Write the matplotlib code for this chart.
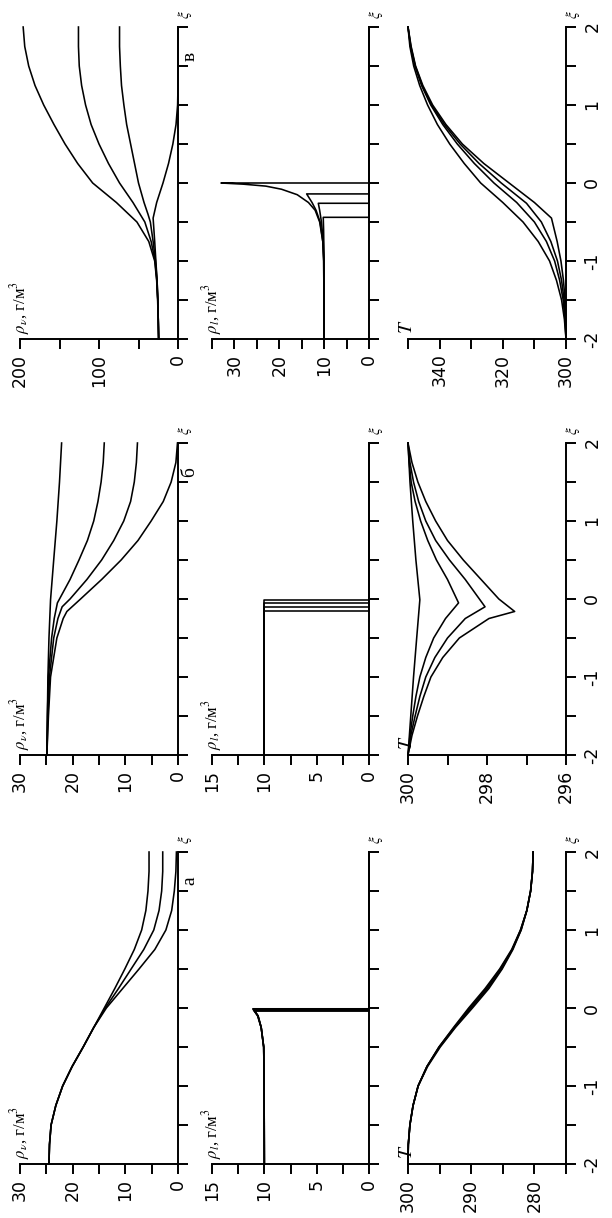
import matplotlib
matplotlib.use('Agg')
import matplotlib.pyplot as plt
from matplotlib.ticker import FixedLocator, NullFormatter

plt.rcParams['mathtext.fontset'] = 'stix'
plt.rcParams['font.family'] = ['DejaVu Sans']

# ---------------- data ----------------
xi_grid = [-2, -1.75, -1.5, -1.25, -1, -0.75, -0.5, -0.25, 0, 0.25, 0.5, 0.75, 1, 1.25, 1.5, 1.75, 2]

# panel в : vapour density
v_rv_xi_A = xi_grid
v_rv_A = [24.5, 25, 25.8, 27, 29.5, 37, 52, 78, 108, 127, 143, 157, 170, 181, 189, 194, 196]
v_rv_xi_B = xi_grid
v_rv_B = [24.5, 25, 25.6, 26.8, 29, 34, 42, 57, 74, 88, 100, 110, 117, 122, 125, 126, 126]
v_rv_xi_C = [-2, -1.75, -1.5, -1.25, -1, -0.75, -0.5, -0.4, -0.25, 0, 0.25, 0.5, 0.75, 1, 1.25, 1.5, 1.75, 2]
v_rv_C = [24.5, 25, 25.5, 26.5, 28.5, 31.5, 35, 38, 43, 50, 55, 60, 65, 68.5, 71.5, 73, 74, 74]
v_rv_xi_D = [-2, -1.75, -1.5, -1.25, -1, -0.75, -0.45, -0.25, 0, 0.25, 0.5, 0.75, 1, 1.25, 2]
v_rv_D = [24.5, 25, 25.5, 26.5, 28, 29.5, 31.5, 27, 19, 12, 6.5, 2.5, 0.5, 0, 0]

# panel в : liquid density
v_rl_xi_A = [-2, -1, -0.75, -0.5, -0.35, -0.25, -0.15, -0.08, -0.04, -0.015, 0, 0, 2]
v_rl_A = [10, 10.1, 10.3, 11, 12, 13.5, 16, 19.5, 23, 28, 33, 0, 0]
v_rl_xi_B = [-2, -1, -0.75, -0.5, -0.35, -0.25, -0.14, -0.14, 2]
v_rl_B = [10, 10.1, 10.3, 10.9, 11.8, 12.7, 13.9, 0, 0]
v_rl_xi_C = [-2, -1, -0.75, -0.5, -0.35, -0.26, -0.26, 2]
v_rl_C = [10, 10.05, 10.2, 10.6, 11.0, 11.3, 0, 0]
v_rl_xi_D = [-2, -1, -0.75, -0.6, -0.44, -0.44, 2]
v_rl_D = [10, 10.02, 10.08, 10.12, 10.2, 0, 0]

# panel в : temperature
v_T_xi_1 = xi_grid
v_T_1 = [300, 300.5, 301.4, 303, 305.2, 308.8, 313.6, 320, 327, 332.2, 336.8, 340.7, 343.8, 346.3, 348.2, 349.4, 350]
v_T_xi_2 = xi_grid
v_T_2 = [300, 300.3, 300.9, 302, 303.6, 306.2, 310, 315.6, 322.8, 329, 334.4, 339, 342.8, 345.7, 347.8, 349.2, 350]
v_T_xi_3 = [-2, -1.75, -1.5, -1.25, -1, -0.75, -0.5, -0.26, 0, 0.25, 0.5, 0.75, 1, 1.25, 1.5, 1.75, 2]
v_T_3 = [300, 300.2, 300.6, 301.4, 302.7, 304.8, 307.8, 312.5, 320.5, 327.5, 333.5, 338.5, 342.5, 345.5, 347.7, 349.1, 350]
v_T_xi_4 = [-2, -1.75, -1.5, -1.25, -1, -0.75, -0.45, -0.25, 0, 0.25, 0.5, 0.75, 1, 1.25, 1.5, 1.75, 2]
v_T_4 = [300, 300.1, 300.3, 300.8, 301.6, 302.8, 304.6, 310, 318, 326, 332.8, 338, 342.2, 345.3, 347.6, 349, 350]

# panel б : vapour density
b_rv_xi_1 = [-2, -1.5, -1, -0.5, -0.01, 0.5, 1, 1.5, 2]
b_rv_1 = [24.9, 24.8, 24.7, 24.5, 24.2, 23.6, 23, 22.5, 22.1]
b_rv_xi_2 = [-2, -1.5, -1, -0.5, -0.25, -0.05, 0.25, 0.5, 0.75, 1, 1.25, 1.5, 1.75, 2]
b_rv_2 = [24.9, 24.8, 24.6, 24, 23.5, 22.9, 20.5, 18.8, 17.2, 16, 15.2, 14.6, 14.2, 14]
b_rv_xi_3 = [-2, -1.5, -1, -0.5, -0.25, -0.1, 0, 0.25, 0.5, 0.75, 1, 1.25, 1.5, 1.75, 2]
b_rv_3 = [24.9, 24.7, 24.4, 23.6, 22.8, 22, 20.5, 17.3, 14.5, 12.2, 10.3, 9, 8.3, 7.9, 7.7]
b_rv_xi_4 = [-2, -1.5, -1, -0.5, -0.25, -0.16, 0, 0.25, 0.5, 0.75, 1, 1.25, 1.5, 1.75, 2]
b_rv_4 = [24.9, 24.6, 24.2, 23, 21.8, 21.1, 18.5, 14.5, 10.8, 7.6, 5.1, 2.8, 1.3, 0.4, 0.1]

# panel б : liquid density (steps)
b_rl_xi_1 = [-2, -0.01, -0.01, 2]
b_rl_1 = [10, 10, 0, 0]
b_rl_xi_2 = [-2, -0.05, -0.05, 2]
b_rl_2 = [10, 10, 0, 0]
b_rl_xi_3 = [-2, -0.1, -0.1, 2]
b_rl_3 = [10, 10, 0, 0]
b_rl_xi_4 = [-2, -0.16, -0.16, 2]
b_rl_4 = [10, 10, 0, 0]

# panel б : temperature
b_T_xi_1 = [-2, -1.5, -1, -0.5, -0.01, 0.5, 1, 1.5, 2]
b_T_1 = [300, 299.93, 299.86, 299.78, 299.7, 299.8, 299.88, 299.95, 300]
b_T_xi_2 = [-2, -1.75, -1.5, -1.25, -1, -0.75, -0.5, -0.25, -0.05, 0.25, 0.5, 0.75, 1, 1.25, 1.5, 1.75, 2]
b_T_2 = [300, 299.95, 299.88, 299.8, 299.7, 299.55, 299.35, 299.05, 298.72, 299.0, 299.28, 299.5, 299.68, 299.82, 299.92, 299.97, 300]
b_T_xi_3 = [-2, -1.75, -1.5, -1.25, -1, -0.75, -0.5, -0.25, -0.1, 0.25, 0.5, 0.75, 1, 1.25, 1.5, 1.75, 2]
b_T_3 = [300, 299.93, 299.82, 299.7, 299.55, 299.32, 299.0, 298.55, 298.05, 298.55, 298.95, 299.3, 299.55, 299.73, 299.86, 299.95, 300]
b_T_xi_4 = [-2, -1.75, -1.5, -1.25, -1, -0.75, -0.5, -0.25, -0.16, 0, 0.25, 0.5, 0.75, 1, 1.25, 1.5, 1.75, 2]
b_T_4 = [300, 299.9, 299.76, 299.6, 299.42, 299.12, 298.7, 297.95, 297.3, 297.7, 298.15, 298.6, 299.0, 299.3, 299.55, 299.75, 299.9, 300]

# panel а : vapour density
a_rv_xi_1 = xi_grid
a_rv_1 = [24.5, 24.4, 24.1, 23.2, 21.9, 20.1, 18, 16, 14, 12, 10.1, 8.3, 6.9, 6.1, 5.7, 5.5, 5.5]
a_rv_xi_2 = xi_grid
a_rv_2 = [24.5, 24.4, 24.1, 23.2, 21.9, 20.1, 18, 16, 13.8, 11.3, 8.9, 6.5, 4.6, 3.6, 3.1, 2.9, 2.9]
a_rv_xi_3 = xi_grid
a_rv_3 = [24.5, 24.4, 24.1, 23.2, 21.9, 20.1, 18, 16, 13.6, 10.5, 7.4, 4.4, 2.3, 1.2, 0.7, 0.4, 0.3]

# panel а : liquid density
a_rl_xi_1 = [-2, -1, -0.5, -0.25, -0.1, -0.04, -0.04, 2]
a_rl_1 = [10, 10.02, 10.06, 10.3, 10.6, 10.9, 0, 0]
a_rl_xi_2 = [-2, -1, -0.5, -0.25, -0.1, -0.03, -0.03, 2]
a_rl_2 = [10, 10.02, 10.06, 10.3, 10.6, 11.0, 0, 0]
a_rl_xi_3 = [-2, -1, -0.5, -0.25, -0.1, -0.02, -0.02, 2]
a_rl_3 = [10, 10.02, 10.06, 10.3, 10.62, 11.05, 0, 0]
a_rl_xi_4 = [-2, -1, -0.5, -0.25, -0.1, -0.01, -0.01, 2]
a_rl_4 = [10, 10.02, 10.06, 10.3, 10.65, 11.1, 0, 0]

# panel а : temperature
a_T_xi = xi_grid
a_T_1 = [300, 299.95, 299.7, 299.2, 298.4, 297.0, 295.1, 292.8, 290.4, 287.8, 285.5, 283.6, 282.2, 281.2, 280.6, 280.3, 280.2]
a_T_2 = [300, 299.95, 299.7, 299.2, 298.4, 297.0, 295.1, 292.7, 290.2, 287.6, 285.4, 283.5, 282.2, 281.2, 280.6, 280.3, 280.2]
a_T_3 = [300, 299.95, 299.7, 299.2, 298.4, 297.0, 295.0, 292.6, 290.0, 287.4, 285.2, 283.5, 282.1, 281.2, 280.6, 280.3, 280.2]
a_T_4 = [300, 299.95, 299.7, 299.2, 298.4, 296.9, 294.9, 292.5, 289.8, 287.2, 285.1, 283.4, 282.1, 281.2, 280.6, 280.3, 280.2]

xi_ticks = [-2, -1, 0, 1, 2]
xi_minor = [-1.5, -0.5, 0.5, 1.5]
xi_ticklabels = ['-2', '-1', '0', '1', '2']

# ---------------- layout ----------------
W, H = 612, 1218
fig = plt.figure(figsize=(W / 100, H / 100), dpi=100)

cols = {'rv': (20, 178), 'rl': (212, 369), 'T': (408, 566)}
rows = {'в': (27, 339), 'б': (443, 755), 'а': (852, 1164)}

LW = 1.15
SPW = 1.4


def make_ax(col, row):
    x0, x1 = cols[col]
    y0, y1 = rows[row]
    ax = fig.add_axes([x0 / W, (H - y1) / H, (x1 - x0) / W, (y1 - y0) / H])
    ax.patch.set_alpha(0)
    for s in ('left', 'top'):
        ax.spines[s].set_visible(False)
    for s in ('right', 'bottom'):
        ax.spines[s].set_linewidth(SPW)
    ax.yaxis.tick_right()
    ax.set_ylim(-2, 2)
    ax.yaxis.set_major_locator(FixedLocator(xi_ticks))
    ax.yaxis.set_minor_locator(FixedLocator(xi_minor))
    ax.tick_params(axis='both', which='both', direction='out', length=7.5, width=SPW,
                   labelsize=12.5)
    ax.tick_params(axis='x', labelrotation=90, pad=3)
    ax.tick_params(axis='y', labelrotation=90, pad=5)
    if col == 'T':
        ax.set_yticklabels(xi_ticklabels)
        for t in ax.get_yticklabels():
            t.set_va('center')
            t.set_ha('left')
    else:
        ax.yaxis.set_major_formatter(NullFormatter())
    return ax


def set_val_axis(ax, vmax, vmin, major, minor):
    ax.set_xlim(vmax, vmin)
    ax.xaxis.set_major_locator(FixedLocator(major))
    ax.xaxis.set_minor_locator(FixedLocator(minor))
    ax.set_xticklabels([('%g' % m) for m in major])


def top_label(ax, text, size=12, family='Liberation Serif', style='normal'):
    ax.text(0.0, 0.015, text, transform=ax.transAxes, rotation=90,
            ha='center', va='bottom', fontsize=size, family=family, style=style)


def xi_label(ax):
    ax.text(1.0 + 7 / 158, 1.0 + 12 / 312, r'$\xi$', transform=ax.transAxes,
            rotation=90, ha='center', va='center', fontsize=11)


def letter(ax, s):
    ax.text(1.0 + 12 / 158, 1.0 - 29 / 312, s, transform=ax.transAxes,
            rotation=90, ha='center', va='center', fontsize=14, family='Liberation Serif')


rv_label = r'$\rho_\nu$, г/м$^3$'
rl_label = r'$\rho_l$, г/м$^3$'

# ---- row в ----
ax = make_ax('rv', 'в')
for xs, ys in [(v_rv_xi_A, v_rv_A), (v_rv_xi_B, v_rv_B), (v_rv_xi_C, v_rv_C), (v_rv_xi_D, v_rv_D)]:
    ax.plot(ys, xs, color='black', lw=LW, clip_on=False)
set_val_axis(ax, 200, 0, [0, 100, 200], [50, 150])
top_label(ax, rv_label)
xi_label(ax)
letter(ax, 'в')

ax = make_ax('rl', 'в')
for xs, ys in [(v_rl_xi_A, v_rl_A), (v_rl_xi_B, v_rl_B), (v_rl_xi_C, v_rl_C), (v_rl_xi_D, v_rl_D)]:
    ax.plot(ys, xs, color='black', lw=LW, clip_on=False)
set_val_axis(ax, 35, 0, [0, 10, 20, 30], [5, 15, 25, 35])
top_label(ax, rl_label)
xi_label(ax)

ax = make_ax('T', 'в')
for xs, ys in [(v_T_xi_1, v_T_1), (v_T_xi_2, v_T_2), (v_T_xi_3, v_T_3), (v_T_xi_4, v_T_4)]:
    ax.plot(ys, xs, color='black', lw=LW, clip_on=False)
set_val_axis(ax, 350, 300, [300, 320, 340], [310, 330, 350])
top_label(ax, r'$T$', size=14)
xi_label(ax)

# ---- row б ----
ax = make_ax('rv', 'б')
for xs, ys in [(b_rv_xi_1, b_rv_1), (b_rv_xi_2, b_rv_2), (b_rv_xi_3, b_rv_3), (b_rv_xi_4, b_rv_4)]:
    ax.plot(ys, xs, color='black', lw=LW, clip_on=False)
set_val_axis(ax, 30, 0, [0, 10, 20, 30], [5, 15, 25])
top_label(ax, rv_label)
xi_label(ax)
letter(ax, 'б')

ax = make_ax('rl', 'б')
for xs, ys in [(b_rl_xi_1, b_rl_1), (b_rl_xi_2, b_rl_2), (b_rl_xi_3, b_rl_3), (b_rl_xi_4, b_rl_4)]:
    ax.plot(ys, xs, color='black', lw=LW, clip_on=False)
set_val_axis(ax, 15, 0, [0, 5, 10, 15], [2.5, 7.5, 12.5])
top_label(ax, rl_label)
xi_label(ax)

ax = make_ax('T', 'б')
for xs, ys in [(b_T_xi_1, b_T_1), (b_T_xi_2, b_T_2), (b_T_xi_3, b_T_3), (b_T_xi_4, b_T_4)]:
    ax.plot(ys, xs, color='black', lw=LW, clip_on=False)
set_val_axis(ax, 300, 296, [296, 298, 300], [297, 299])
top_label(ax, r'$T$', size=14)
xi_label(ax)

# ---- row а ----
ax = make_ax('rv', 'а')
for xs, ys in [(a_rv_xi_1, a_rv_1), (a_rv_xi_2, a_rv_2), (a_rv_xi_3, a_rv_3)]:
    ax.plot(ys, xs, color='black', lw=LW, clip_on=False)
set_val_axis(ax, 30, 0, [0, 10, 20, 30], [5, 15, 25])
top_label(ax, rv_label)
xi_label(ax)
letter(ax, 'а')

ax = make_ax('rl', 'а')
for xs, ys in [(a_rl_xi_1, a_rl_1), (a_rl_xi_2, a_rl_2), (a_rl_xi_3, a_rl_3), (a_rl_xi_4, a_rl_4)]:
    ax.plot(ys, xs, color='black', lw=LW, clip_on=False)
set_val_axis(ax, 15, 0, [0, 5, 10, 15], [2.5, 7.5, 12.5])
top_label(ax, rl_label)
xi_label(ax)

ax = make_ax('T', 'а')
for ys in [a_T_1, a_T_2, a_T_3, a_T_4]:
    ax.plot(ys, a_T_xi, color='black', lw=LW, clip_on=False)
set_val_axis(ax, 300, 275, [280, 290, 300], [275, 285, 295])
top_label(ax, r'$T$', size=14)
xi_label(ax)

fig.savefig('out.png', dpi=100)
